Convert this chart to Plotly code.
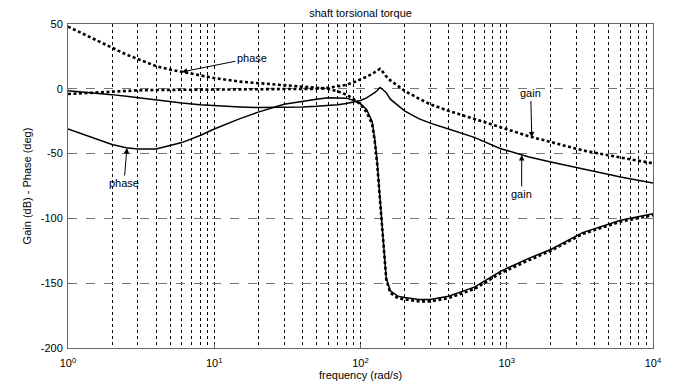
import math
import plotly.graph_objects as go

freq = [1, 1.5, 2, 2.5, 3, 4, 5, 6, 8, 10, 15, 20, 30, 40, 50, 60, 70, 80, 90, 100,
        110, 120, 125, 130, 136, 140, 145, 150, 160, 180, 200, 250, 300, 400, 600,
        900, 1400, 2000, 3300, 6000, 10000]

gain_solid = [-1.5, -3, -4.5, -5.8, -7, -8.8, -10, -11, -12.3, -13, -14, -14.5, -14.5, -14,
              -13.5, -13, -12.3, -11.3, -10.2, -9, -7, -4.5, -3, -1.3, 1, 0, -1.5, -3,
              -8, -13, -17, -23, -26.5, -31, -37.5, -46, -52.5, -56.5, -62, -68, -72.6]

phase_solid = [-31, -38, -43, -45.5, -46.5, -46.5, -44, -41.5, -36, -31, -23, -18, -12,
               -9.5, -8, -7, -6.8, -7.2, -9, -11.5, -16, -25, -38, -56, -85, -103, -130,
               -146, -156, -160, -161, -162.5, -162.5, -160, -153, -141, -131, -124,
               -111, -101.5, -96.5]

gain_dotted = [-4, -2.8, -2, -1.5, -1.2, -0.9, -0.8, -0.7, -0.6, -0.6, -0.6, -0.6, -0.5,
               -0.3, 0, 0.8, 1.8, 3, 5, 7, 9.3, 11.5, 12.7, 14, 15.4, 14, 11.5, 9.5, 6.5,
               2.5, -1.5, -7.5, -12, -17, -23, -29.5, -36.5, -41, -47.5, -53, -57.5]

phase_dotted = [48, 38.5, 31.5, 26.5, 23, 17.5, 14.8, 13, 10, 8.3, 5.5, 4.5, 3, 1.8, 0.8,
                0, -2, -4.5, -8, -12, -18, -27, -40, -58, -87, -105, -131, -147, -157.5,
                -161.5, -162.5, -164, -164, -161.5, -154.5, -142.5, -132.5, -125, -112,
                -102.5, -97.5]

x_tick_vals = [1, 10, 100, 1000, 10000]
x_tick_text = ["10<sup>0</sup>", "10<sup>1</sup>", "10<sup>2</sup>", "10<sup>3</sup>", "10<sup>4</sup>"]
y_tick_vals = [50, 0, -50, -100, -150, -200]
y_tick_text = ["50", "0", "-50", "-100", "-150", "-200"]

FONT = "Liberation Sans, Arial, sans-serif"

fig = go.Figure()
solid = dict(color="black", width=1.5)
dotted = dict(color="black", width=2.6, dash="3px,2.5px")
fig.add_trace(go.Scatter(x=freq, y=phase_solid, mode="lines", line=solid, name="phase"))
fig.add_trace(go.Scatter(x=freq, y=gain_solid, mode="lines", line=solid, name="gain"))
fig.add_trace(go.Scatter(x=freq, y=phase_dotted, mode="lines", line=dotted, name="phase"))
fig.add_trace(go.Scatter(x=freq, y=gain_dotted, mode="lines", line=dotted, name="gain"))

def arrow(f, v, text, ax, ay):
    fig.add_annotation(x=math.log10(f), y=v, text=text, showarrow=True,
                       arrowhead=2, arrowsize=1.1, arrowwidth=1, arrowcolor="#000000",
                       ax=ax, ay=ay, font=dict(family=FONT, size=11, color="#000000"))

arrow(6.0, 13, "phase", 70, -14)
arrow(1482, -37.5, "gain", -1, -44)
arrow(2.53, -45.7, "phase", -3, 35)
arrow(1265, -51, "gain", 0, 39)

fig.update_layout(
    width=688, height=381,
    margin=dict(l=68, r=35, t=24, b=33),
    paper_bgcolor="white", plot_bgcolor="white",
    showlegend=False,
    font=dict(family=FONT, size=11, color="black"),
    title=dict(text="shaft torsional torque", x=0.524, xanchor="center", y=0.965,
               yanchor="middle", font=dict(family=FONT, size=11, color="black")),
    xaxis=dict(type="log", range=[0, 4], tickvals=x_tick_vals, ticktext=x_tick_text,
               automargin=False,
               showgrid=True, gridcolor="black", griddash="dot", gridwidth=1,
               minor=dict(dtick="D1", showgrid=True, gridcolor="black", griddash="dot",
                          gridwidth=1, ticks=""),
               showline=True, linecolor="#666666", linewidth=1, mirror=True,
               ticks="inside", ticklen=4, tickcolor="#666666",
               ticklabelstandoff=5,
               zeroline=False,
               title=dict(text="frequency (rad/s)", standoff=5,
                          font=dict(family=FONT, size=11))),
    yaxis=dict(range=[-200, 50], tickvals=y_tick_vals, ticktext=y_tick_text,
               automargin=False,
               showgrid=True, gridcolor="#777777", griddash="dash", gridwidth=1,
               showline=True, linecolor="#666666", linewidth=1, mirror=True,
               ticks="inside", ticklen=4, tickcolor="#666666",
               ticklabelstandoff=2,
               zeroline=False,
               title=dict(text="Gain (dB) - Phase (deg)", standoff=6,
                          font=dict(family=FONT, size=11))),
)

fig.write_html("out.html")
